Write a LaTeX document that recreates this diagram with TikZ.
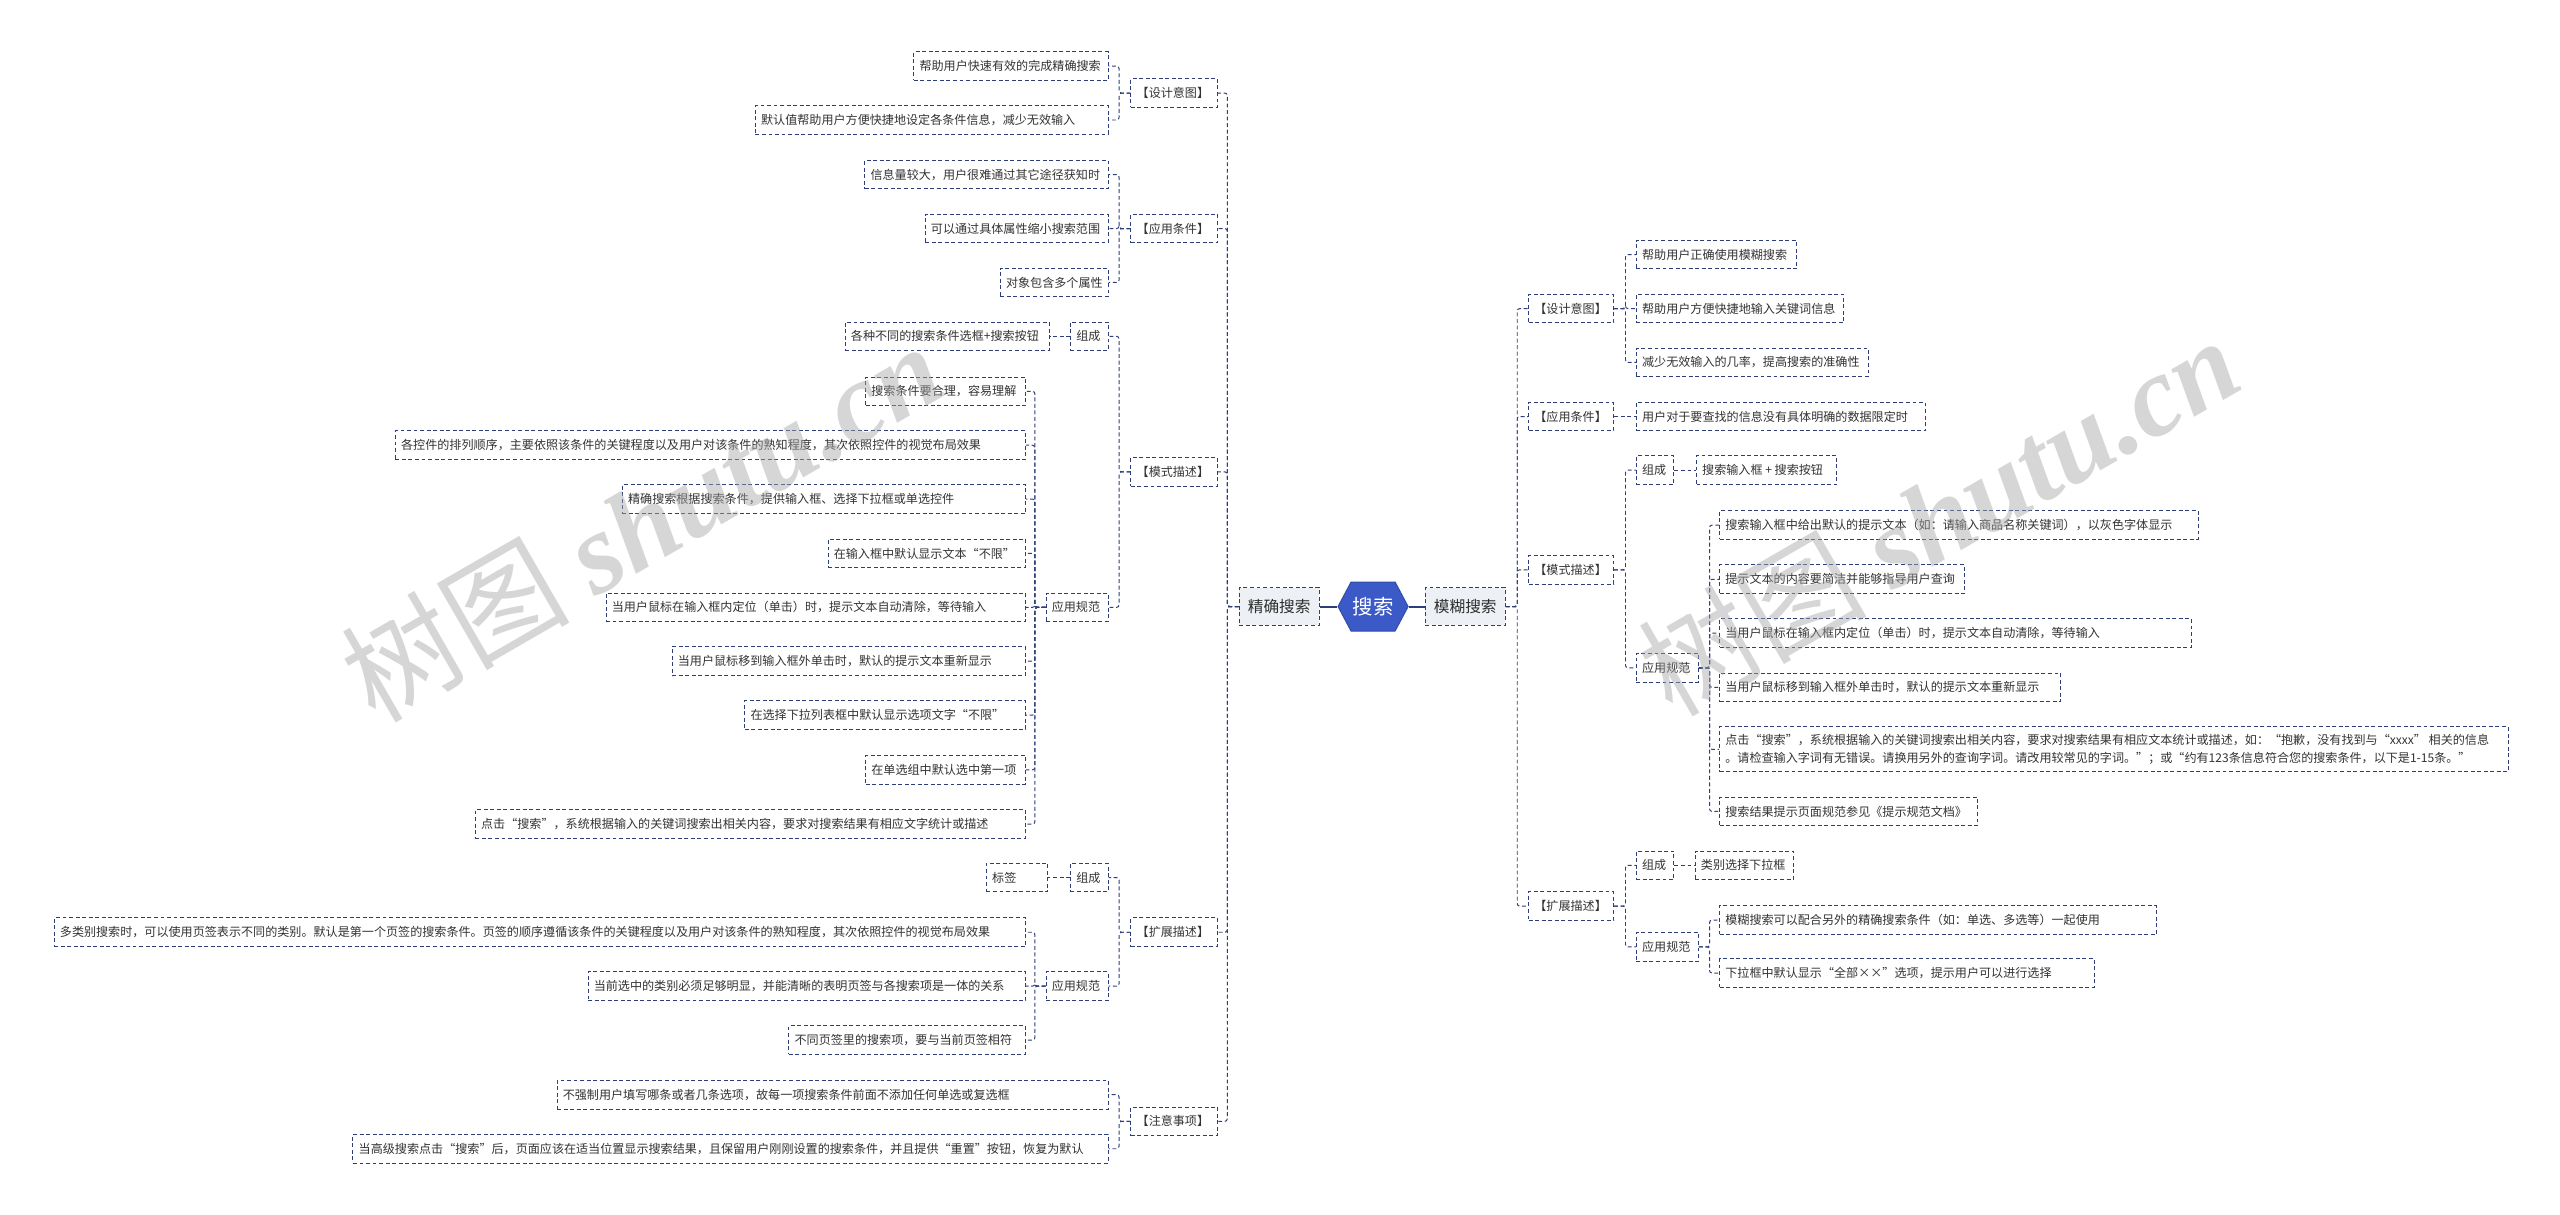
\documentclass[tikz,border=0pt]{standalone}
\usepackage{fontspec}
\setmainfont{Noto Sans CJK SC}
\newfontfamily\wmlatin{Liberation Serif}
\usetikzlibrary{shapes.symbols}
\definecolor{navy}{RGB}{46,62,120}
\definecolor{hubblue}{RGB}{59,89,199}
\definecolor{lvlfill}{RGB}{237,240,245}
\definecolor{txt}{RGB}{51,51,51}
\definecolor{wm}{RGB}{165,165,165}
\newcommand\W[2]{\makebox[#1pt][l]{#2}}
\begin{document}
\begin{tikzpicture}[x=1pt,y=-1pt,
 bx/.style={draw=navy, line width=0.6pt, dash pattern=on 2.4pt off 1.6pt, inner xsep=3.5pt, inner ysep=0pt, minimum height=17.5pt, font=\fontsize{7.4}{10.5}\selectfont, text=txt},
 lv/.style={draw=navy, line width=0.6pt, dash pattern=on 2.4pt off 1.6pt, fill=lvlfill, minimum height=23pt, minimum width=49pt, inner xsep=2pt, font=\fontsize{9.6}{11}\selectfont, text=txt!90!black},
 cn/.style={draw=navy, line width=0.6pt, dash pattern=on 2.4pt off 1.6pt, rounded corners=1.5pt},
 hubline/.style={draw=navy, line width=1.2pt},
 wmk/.style={text=wm, opacity=0.45, rotate=30, anchor=base west, inner sep=0pt, font=\fontsize{70}{70}\selectfont}
]
\fill[white] (0,0) rectangle (1568,744);
\useasboundingbox (0,0) rectangle (1568,744);

% centre
\node[shape=signal, signal to=west and east, signal pointer angle=124, fill=hubblue, draw=hubblue!85!black, line width=0.6pt, text=white, font=\fontsize{12.5}{13}\selectfont, minimum width=38pt, minimum height=30pt, inner xsep=1pt, inner ysep=0pt] (hub) at (841,371.5) {搜索};
\node[lv] (jq) at (783.5,371.5) {精确搜索};
\node[lv] (mh) at (897.5,371.5) {模糊搜索};

% left level 2
\node[bx, anchor=east] (la) at (746,57) {\W{46}{【设计意图】}};
\node[bx, anchor=east] (lb) at (746,140) {\W{46}{【应用条件】}};
\node[bx, anchor=east] (lc) at (746,289) {\W{46}{【模式描述】}};
\node[bx, anchor=east] (ld) at (746,571) {\W{46}{【扩展描述】}};
\node[bx, anchor=east] (le) at (746,686.8) {\W{46}{【注意事项】}};

% left level 3
\node[bx, anchor=east] (la1) at (679,40.5) {\W{112}{帮助用户快速有效的完成精确搜索}};
\node[bx, anchor=east] (la2) at (679,73.5) {\W{209}{默认值帮助用户方便快捷地设定各条件信息，减少无效输入}};
\node[bx, anchor=east] (lb1) at (679,107) {\W{142}{信息量较大，用户很难通过其它途径获知时}};
\node[bx, anchor=east] (lb2) at (679,140) {\W{105}{可以通过具体属性缩小搜索范围}};
\node[bx, anchor=east] (lb3) at (679,173) {\W{59}{对象包含多个属性}};
\node[bx, anchor=east] (lc1) at (679,206) {\W{16}{组成}};
\node[bx, anchor=east] (lc1a) at (643,206) {\W{118}{各种不同的搜索条件选框+搜索按钮}};
\node[bx, anchor=east] (lc2) at (679,372) {\W{31}{应用规范}};
\node[bx, anchor=east] (k1) at (628.5,239.7) {\W{91}{搜索条件要合理，容易理解}};
\node[bx, anchor=east] (k2) at (628.5,272.7) {\W{379}{各控件的排列顺序，主要依照该条件的关键程度以及用户对该条件的熟知程度，其次依照控件的视觉布局效果}};
\node[bx, anchor=east] (k3) at (628.5,305.7) {\W{240}{精确搜索根据搜索条件，提供输入框、选择下拉框或单选控件}};
\node[bx, anchor=east] (k4) at (628.5,339) {\W{114}{在输入框中默认显示文本“不限”}};
\node[bx, anchor=east] (k5) at (628.5,372) {\W{250}{当用户鼠标在输入框内定位（单击）时，提示文本自动清除，等待输入}};
\node[bx, anchor=east] (k6) at (628.5,405) {\W{209.5}{当用户鼠标移到输入框外单击时，默认的提示文本重新显示}};
\node[bx, anchor=east] (k7) at (628.5,438) {\W{165}{在选择下拉列表框中默认显示选项文字“不限”}};
\node[bx, anchor=east] (k8) at (628.5,471.5) {\W{91}{在单选组中默认选中第一项}};
\node[bx, anchor=east] (k9) at (628.5,504.7) {\W{330}{点击“搜索”，系统根据输入的关键词搜索出相关内容，要求对搜索结果有相应文字统计或描述}};
\node[bx, anchor=east] (ld1) at (679,537.5) {\W{16}{组成}};
\node[bx, anchor=east] (ld1a) at (642,537.5) {\W{30.5}{标签}};
\node[bx, anchor=east] (ld2) at (679,604) {\W{31}{应用规范}};
\node[bx, anchor=east] (m1) at (628.5,571) {\W{588}{多类别搜索时，可以使用页签表示不同的类别。默认是第一个页签的搜索条件。页签的顺序遵循该条件的关键程度以及用户对该条件的熟知程度，其次依照控件的视觉布局效果}};
\node[bx, anchor=east] (m2) at (628.5,604) {\W{261}{当前选中的类别必须足够明显，并能清晰的表明页签与各搜索项是一体的关系}};
\node[bx, anchor=east] (m3) at (628.5,637) {\W{138}{不同页签里的搜索项，要与当前页签相符}};
\node[bx, anchor=east] (n1) at (679,670.5) {\W{330.5}{不强制用户填写哪条或者几条选项，故每一项搜索条件前面不添加任何单选或复选框}};
\node[bx, anchor=east] (n2) at (679,703.6) {\W{455.5}{当高级搜索点击“搜索”后，页面应该在适当位置显示搜索结果，且保留用户刚刚设置的搜索条件，并且提供“重置”按钮，恢复为默认}};

% right level 2
\node[bx, anchor=west] (ra) at (936,189) {\W{45}{【设计意图】}};
\node[bx, anchor=west] (rb) at (936,255.2) {\W{45}{【应用条件】}};
\node[bx, anchor=west] (rc) at (936,349) {\W{45}{【模式描述】}};
\node[bx, anchor=west] (rd) at (936,555) {\W{45}{【扩展描述】}};

% right level 3
\node[bx, anchor=west] (ra1) at (1002,156) {\W{91}{帮助用户正确使用模糊搜索}};
\node[bx, anchor=west] (ra2) at (1002,189) {\W{120}{帮助用户方便快捷地输入关键词信息}};
\node[bx, anchor=west] (ra3) at (1002,222) {\W{135}{减少无效输入的几率，提高搜索的准确性}};
\node[bx, anchor=west] (rb1) at (1002,255.2) {\W{170}{用户对于要查找的信息没有具体明确的数据限定时}};
\node[bx, anchor=west] (rc1) at (1002,288) {\W{16}{组成}};
\node[bx, anchor=west] (rc1a) at (1038.8,288) {\W{79}{搜索输入框 + 搜索按钮}};
\node[bx, anchor=west] (rc2) at (1002,409) {\W{31}{应用规范}};
\node[bx, anchor=west] (s1) at (1053,321.6) {\W{286}{搜索输入框中给出默认的提示文本（如：请输入商品名称关键词），以灰色字体显示}};
\node[bx, anchor=west] (s2) at (1053,354.8) {\W{143}{提示文本的内容要简洁并能够指导用户查询}};
\node[bx, anchor=west] (s3) at (1053,387.8) {\W{282}{当用户鼠标在输入框内定位（单击）时，提示文本自动清除，等待输入}};
\node[bx, anchor=west] (s4) at (1053,421) {\W{202}{当用户鼠标移到输入框外单击时，默认的提示文本重新显示}};
\node[bx, anchor=west, align=left, minimum height=27.5pt] (s5) at (1053,459) {\W{476}{点击“搜索”，系统根据输入的关键词搜索出相关内容，要求对搜索结果有相应文本统计或描述，如：“抱歉，没有找到与“xxxx” 相关的信息}\\\W{476}{。请检查输入字词有无错误。请换用另外的查询字词。请改用较常见的字词。”；或“约有123条信息符合您的搜索条件，以下是1-15条。”}};
\node[bx, anchor=west] (s6) at (1053,497) {\W{151}{搜索结果提示页面规范参见《提示规范文档》}};
\node[bx, anchor=west] (rd1) at (1002,530) {\W{16}{组成}};
\node[bx, anchor=west] (rd1a) at (1038,530) {\W{53}{类别选择下拉框}};
\node[bx, anchor=west] (rd2) at (1002,580) {\W{31}{应用规范}};
\node[bx, anchor=west] (t1) at (1053,563.5) {\W{260.6}{模糊搜索可以配合另外的精确搜索条件（如：单选、多选等）一起使用}};
\node[bx, anchor=west] (t2) at (1053,596) {\W{222.5}{下拉框中默认显示“全部××”选项，提示用户可以进行选择}};

% connectors centre
\draw[hubline] (jq.east) -- (hub.west);
\draw[hubline] (hub.east) -- (mh.west);

% left connectors
\foreach \c in {la,lb,lc,ld,le} \draw[cn] (jq.west) -- ++(-7,0) |- (\c.east);
\foreach \c in {la1,la2} \draw[cn] (la.west) -- ++(-7,0) |- (\c.east);
\foreach \c in {lb1,lb2,lb3} \draw[cn] (lb.west) -- ++(-7,0) |- (\c.east);
\foreach \c in {lc1,lc2} \draw[cn] (lc.west) -- ++(-7,0) |- (\c.east);
\draw[cn] (lc1.west) -- (lc1a.east);
\foreach \c in {k1,k2,k3,k4,k5,k6,k7,k8,k9} \draw[cn] (lc2.west) -- ++(-6.5,0) |- (\c.east);
\foreach \c in {ld1,ld2} \draw[cn] (ld.west) -- ++(-7,0) |- (\c.east);
\draw[cn] (ld1.west) -- (ld1a.east);
\foreach \c in {m1,m2,m3} \draw[cn] (ld2.west) -- ++(-6.5,0) |- (\c.east);
\foreach \c in {n1,n2} \draw[cn] (le.west) -- ++(-7,0) |- (\c.east);

% right connectors
\foreach \c in {ra,rb,rc,rd} \draw[cn] (mh.east) -- ++(7,0) |- (\c.west);
\foreach \c in {ra1,ra2,ra3} \draw[cn] (ra.east) -- ++(7,0) |- (\c.west);
\draw[cn] (rb.east) -- (rb1.west);
\foreach \c in {rc1,rc2} \draw[cn] (rc.east) -- ++(7,0) |- (\c.west);
\draw[cn] (rc1.east) -- (rc1a.west);
\foreach \c in {s1,s2,s3,s4,s5,s6} \draw[cn] (rc2.east) -- ++(6.5,0) |- (\c.west);
\foreach \c in {rd1,rd2} \draw[cn] (rd.east) -- ++(7,0) |- (\c.west);
\draw[cn] (rd1.east) -- (rd1a.west);
\foreach \c in {t1,t2} \draw[cn] (rd2.east) -- ++(6.5,0) |- (\c.west);

% watermarks
\node[wmk] (wm1) at (230,444) {树图 {\wmlatin\bfseries\itshape shutu.cn}};
\node[wmk] (wm2) at (1024,440) {树图 {\wmlatin\bfseries\itshape shutu.cn}};
\end{tikzpicture}
\end{document}
